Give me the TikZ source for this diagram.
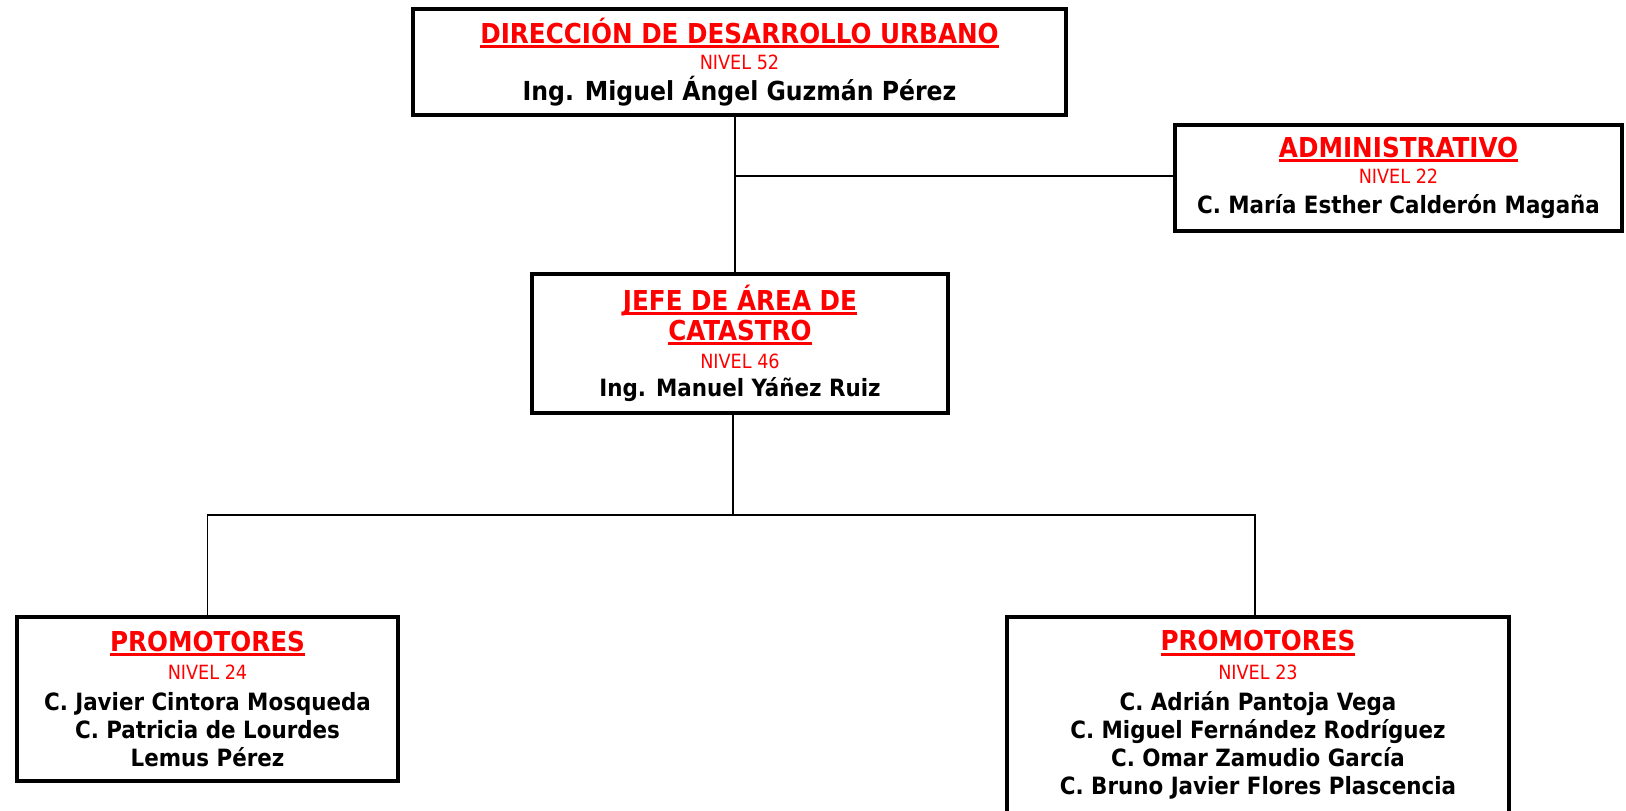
\documentclass[tikz,border=0pt]{standalone}
\usepackage{fontspec}
\setmainfont{DejaVuSansCondensed}[Extension=.ttf, BoldFont=DejaVuSansCondensed-Bold]
\usepackage{tikz}

\newcommand{\titulo}[1]{{\color{red}\fontsize{13.7}{14}\selectfont\setbox0\hbox{#1}\rlap{\rule[-2.4pt]{\wd0}{1.5pt}}\box0}}
\newcommand{\nivel}[1]{{\mdseries\color{red}\fontsize{9.8}{14}\selectfont NIVEL #1}}

\begin{document}
\begin{tikzpicture}[x=0.5pt, y=-0.5pt,
  every node/.style={draw, line width=2pt, align=center, inner sep=0pt, outer sep=0pt,
    font=\fontsize{11.9}{14.1}\selectfont\bfseries},
  linea/.style={line width=0.75pt}]
\useasboundingbox (0,0) rectangle (1626,810);

\node[minimum width=326.5pt, minimum height=53pt] (dir) at (739.5,62)
  {\titulo{DIRECCIÓN DE DESARROLLO URBANO}\\[-1pt] \nivel{52}\\[1pt] {\fontsize{13.1}{14}\selectfont Ing. Miguel Ángel Guzmán Pérez}};
\node[minimum width=223.5pt, minimum height=53pt] (adm) at (1398.5,178)
  {\titulo{ADMINISTRATIVO}\\[-1pt] \nivel{22}\\[1pt] C. María Esther Calderón Magaña};
\node[minimum width=208pt, minimum height=69.5pt] (jefe) at (740,343.5)
  {\titulo{JEFE DE ÁREA DE}\\[1pt] \titulo{CATASTRO}\\[0pt] \nivel{46}\\[0pt] Ing. Manuel Yáñez Ruiz};
\node[minimum width=190.5pt, minimum height=82pt] (izq) at (207.5,699)
  {\titulo{PROMOTORES}\\[0pt] \nivel{24}\\[1.5pt] C. Javier Cintora Mosqueda\\ C. Patricia de Lourdes\\ Lemus Pérez};
\node[minimum width=251pt, minimum height=98pt] (der) at (1258,715)
  {\titulo{PROMOTORES}\\[0pt] \nivel{23}\\[1.5pt] C. Adrián Pantoja Vega\\ C. Miguel Fernández Rodríguez\\ C. Omar Zamudio García\\ C. Bruno Javier Flores Plascencia};

\coordinate (eje) at (735,176);
\coordinate (bus) at (733,515);
\coordinate (bajada) at (1255,515);
\draw[linea] (dir.south -| eje) -- (jefe.north -| eje);
\draw[linea] (eje) -- (eje -| adm.west);
\draw[linea] (jefe.south -| bus) -- (bus);
\draw[linea] (izq.north) |- (bus) -- (bajada) -- (der.north -| bajada);
\end{tikzpicture}
\end{document}
